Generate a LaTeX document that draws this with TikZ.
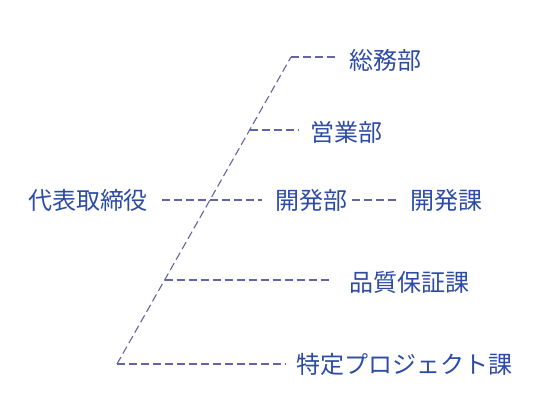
\documentclass[tikz,border=0pt]{standalone}
\usepackage{fontspec}
\newfontfamily\jpfont{Noto Sans CJK JP}
\definecolor{txtblue}{RGB}{45,75,165}
\definecolor{lineblue}{RGB}{100,100,165}
\begin{document}
\begin{tikzpicture}[x=1pt,y=-1pt,
  lbl/.style={font=\jpfont\fontsize{24}{27}\selectfont, text=txtblue, inner sep=0pt},
  conn/.style={draw=lineblue, line width=1.1pt, dash pattern=on 8pt off 4pt}]
\useasboundingbox (0,0) rectangle (536,416);
\node[lbl] (ceo) at (88,200) {代表取締役};
\node[lbl] (soumu) at (385,60) {総務部};
\node[lbl] (eigyo) at (346,132) {営業部};
\node[lbl] (kaibu) at (311,200) {開発部};
\node[lbl] (kaika) at (446,200) {開発課};
\node[lbl] (hinshitsu) at (409,282) {品質保証課};
\node[lbl] (tokutei) at (404,364) {特定プロジェクト課};
\coordinate (top) at (291,57);
\coordinate (bot) at (117,364);
\coordinate (br1) at (249.6,130);
\coordinate (br2) at (164.6,280);
\draw[conn] (bot) -- (top);
\draw[conn] (top) -- ([xshift=-10pt]top -| soumu.west);
\draw[conn] (br1) -- ([xshift=-12pt]br1 -| eigyo.west);
\draw[conn] ([xshift=14pt]ceo.east |- 0,200) -- ([xshift=-13pt]kaibu.west |- 0,200);
\draw[conn] ([xshift=5pt]kaibu.east |- 0,200) -- ([xshift=-10pt]kaika.west |- 0,200);
\draw[conn] (br2) -- ([xshift=-17pt]br2 -| hinshitsu.west);
\draw[conn] (bot) -- ([xshift=-10pt]bot -| tokutei.west);
\end{tikzpicture}
\end{document}
